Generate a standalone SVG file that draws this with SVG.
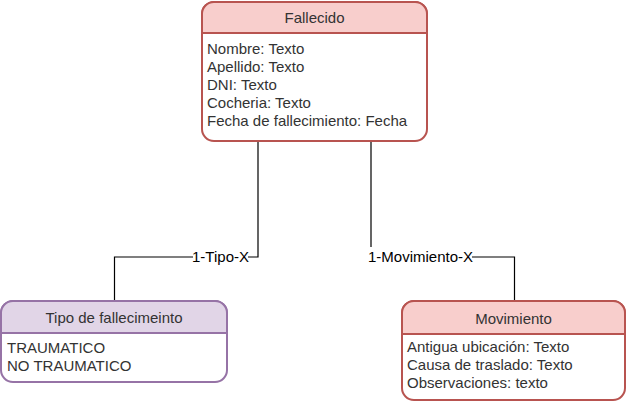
<svg xmlns="http://www.w3.org/2000/svg" width="627" height="402" viewBox="0 0 627 402">
<style>
text{font-family:"Liberation Sans",Arial,sans-serif;font-size:15px;fill:#333333}
.c{text-anchor:middle}
.red .box{fill:#ffffff;stroke:#b85450;stroke-width:2}
.red .hdr{fill:#f8cecc;stroke:#b85450;stroke-width:2}
.pur .box{fill:#ffffff;stroke:#9673a6;stroke-width:2}
.pur .hdr{fill:#e1d5e7;stroke:#9673a6;stroke-width:2}
.edge{fill:none;stroke:#000000;stroke-width:1.2}
.lbg{fill:#ffffff}
.lbl{fill:#000000;text-anchor:middle}
</style>
<rect width="627" height="402" fill="#ffffff"/>
<g id="connectors">
<path class="edge" d="M258,141 V257 H114.5 V301"/>
<path class="edge" d="M371,141 V257 H514.5 V301"/>
<rect class="lbg" x="193" y="248" width="55" height="18"/>
<text class="lbl" x="220.5" y="262">1-Tipo-X</text>
<rect class="lbg" x="368" y="247" width="104" height="19"/>
<text class="lbl" x="420.5" y="262">1-Movimiento-X</text>
</g>
<g id="fallecido" class="red">
<rect class="box" x="202" y="2" width="225" height="139" rx="12"/>
<path class="hdr" d="M202,33 V14 A12,12 0 0 1 214,2 H415 A12,12 0 0 1 427,14 V33 Z"/>
<text class="c" x="314.5" y="23">Fallecido</text>
<text x="207" y="54">Nombre: Texto</text>
<text x="207" y="72">Apellido: Texto</text>
<text x="207" y="90">DNI: Texto</text>
<text x="207" y="108">Cocheria: Texto</text>
<text x="207" y="126">Fecha de fallecimiento: Fecha</text>
</g>
<g id="tipo" class="pur">
<rect class="box" x="1" y="301" width="226" height="81" rx="12"/>
<path class="hdr" d="M1,333 V313 A12,12 0 0 1 13,301 H215 A12,12 0 0 1 227,313 V333 Z"/>
<text class="c" x="114" y="323">Tipo de fallecimeinto</text>
<text x="7" y="353">TRAUMATICO</text>
<text x="7" y="371">NO TRAUMATICO</text>
</g>
<g id="movimiento" class="red">
<rect class="box" x="402" y="301" width="223" height="99" rx="12"/>
<path class="hdr" d="M402,334 V313 A12,12 0 0 1 414,301 H613 A12,12 0 0 1 625,313 V334 Z"/>
<text class="c" x="513.5" y="324">Movimiento</text>
<text x="407" y="352">Antigua ubicación: Texto</text>
<text x="407" y="370">Causa de traslado: Texto</text>
<text x="407" y="388">Observaciones: texto</text>
</g>
</svg>
